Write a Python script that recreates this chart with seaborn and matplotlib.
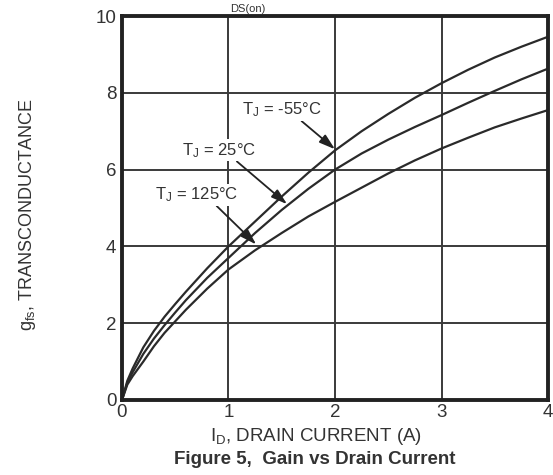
import matplotlib
matplotlib.use("Agg")
import matplotlib.pyplot as plt
import seaborn as sns
import pandas as pd

# Drain current (A) and forward transconductance (S) for three junction temperatures
drain_current = [0.0, 0.05, 0.1, 0.2, 0.3, 0.4, 0.5, 0.6, 0.8, 1.0, 1.25, 1.5,
                 1.75, 2.0, 2.25, 2.5, 2.75, 3.0, 3.25, 3.5, 3.75, 4.0]
gfs_minus55 = [0.0, 0.5, 0.82, 1.37, 1.8, 2.17, 2.5, 2.82, 3.43, 4.0, 4.65, 5.3,
               5.92, 6.5, 7.0, 7.45, 7.87, 8.25, 8.6, 8.92, 9.2, 9.46]
gfs_25 = [0.0, 0.45, 0.72, 1.2, 1.6, 1.95, 2.28, 2.6, 3.18, 3.7, 4.35, 4.95,
          5.5, 6.0, 6.42, 6.78, 7.11, 7.42, 7.74, 8.05, 8.35, 8.63]
gfs_125 = [0.0, 0.4, 0.62, 1.0, 1.4, 1.75, 2.05, 2.35, 2.9, 3.4, 3.9, 4.35,
           4.78, 5.16, 5.53, 5.9, 6.24, 6.55, 6.83, 7.1, 7.33, 7.55]
temperatures = [r"T$_\mathrm{J}$ = -55°C", r"T$_\mathrm{J}$ = 25°C", r"T$_\mathrm{J}$ = 125°C"]

x_ticks = [0, 1, 2, 3, 4]
y_ticks = [0, 2, 4, 6, 8, 10]

df = pd.concat(
    [
        pd.DataFrame({"Id": drain_current, "gfs": vals, "temp": t})
        for vals, t in zip([gfs_minus55, gfs_25, gfs_125], temperatures)
    ],
    ignore_index=True,
)

sns.set_style("white")
plt.rcParams["font.family"] = ["Liberation Sans", "DejaVu Sans"]
plt.rcParams["mathtext.fontset"] = "custom"
plt.rcParams["mathtext.rm"] = "Liberation Sans"
plt.rcParams["mathtext.it"] = "Liberation Sans"
text_color = "#333333"

fig = plt.figure(figsize=(5.53, 4.75), dpi=100)
ax = fig.add_axes([0.2206, 0.1579, 0.7704, 0.8084])

sns.lineplot(
    data=df, x="Id", y="gfs", hue="temp", ax=ax,
    palette=["#2a2a2a"] * 3, linewidth=1.6, legend=False,
)

ax.set_xlim(0, 4)
ax.set_ylim(0, 10)
ax.set_xticks(x_ticks)
ax.set_yticks(y_ticks)
ax.grid(True, color="#3a3a3a", linewidth=1.4)
ax.set_axisbelow(True)
for spine in ax.spines.values():
    spine.set_visible(True)
    spine.set_color("#222222")
    spine.set_linewidth(2.8)

ax.tick_params(axis="both", which="both", direction="out", length=3, width=1.2,
               color="#333333", labelsize=13.5, labelcolor=text_color, pad=1)
ax.tick_params(axis="x", pad=0)

ax.set_xlabel(r"I$_\mathrm{D}$, DRAIN CURRENT (A)", fontsize=13.5, color=text_color)
ax.xaxis.set_label_coords(0.455, -0.068)
ax.set_ylabel(r"g$_\mathrm{fs}$, TRANSCONDUCTANCE", fontsize=13, color=text_color)
ax.yaxis.set_label_coords(-0.197, 0.484)

fig.text(0.57, 0.0316, "Figure 5,  Gain vs Drain Current",
         ha="center", va="center", fontsize=13.5, fontweight="bold", color=text_color)
fig.text(0.449, 1 - 12 / 475, "DS(on)", ha="center", va="baseline",
         fontsize=8, color=text_color)

# Temperature callouts with arrows pointing at each curve
callouts = [
    (temperatures[0], (2.0, 6.53), (1.13, 7.55)),
    (temperatures[1], (1.55, 5.1), (0.56, 6.5)),
    (temperatures[2], (1.26, 4.05), (0.31, 5.34)),
]
for label, tip, pos in callouts:
    ax.annotate(
        label, xy=tip, xytext=pos, fontsize=12, color=text_color,
        ha="left", va="center",
        bbox=dict(boxstyle="square,pad=0.1", fc="white", ec="none"),
        arrowprops=dict(arrowstyle="-|>,head_length=0.8,head_width=0.25",
                        color="#222222", lw=1.3,
                        mutation_scale=12, shrinkA=0, shrinkB=0,
                        relpos=(0.72, 0.0)),
    )

fig.savefig("out.png", dpi=100, facecolor="white")
